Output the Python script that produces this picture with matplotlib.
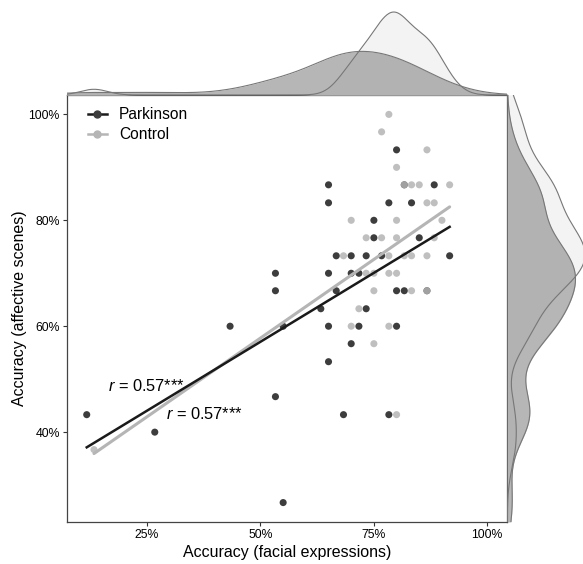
import numpy as np
import matplotlib
matplotlib.use('Agg')
import matplotlib.pyplot as plt
from matplotlib.lines import Line2D

plt.rcParams['font.family'] = ['Liberation Sans', 'DejaVu Sans']
plt.rcParams['mathtext.fontset'] = 'custom'
plt.rcParams['mathtext.it'] = 'Liberation Sans:italic'
plt.rcParams['mathtext.rm'] = 'Liberation Sans'

# accuracy in percent
park_x = [11.7, 26.7, 43.3, 53.3, 53.3, 53.3, 55, 55, 63.3, 65, 65, 65, 65, 65,
          66.7, 66.7, 68.3, 70, 70, 70, 71.7, 71.7, 73.3, 73.3, 75, 75, 76.7,
          78.3, 78.3, 80, 80, 80, 81.7, 81.7, 83.3, 85, 86.7, 88.3, 91.7]
park_y = [43.3, 40, 60, 70, 66.7, 46.7, 60, 26.7, 63.3, 86.7, 83.3, 70, 60, 53.3,
          73.3, 66.7, 43.3, 73.3, 70, 56.7, 70, 60, 73.3, 63.3, 80, 76.7, 73.3,
          83.3, 43.3, 93.3, 66.7, 60, 66.7, 86.7, 83.3, 76.7, 66.7, 86.7, 73.3]

ctrl_x = [13.3, 68.3, 70, 70, 71.7, 73.3, 73.3, 75, 75, 75, 76.7, 76.7, 78.3,
          78.3, 78.3, 78.3, 80, 80, 80, 80, 80, 81.7, 81.7, 83.3, 83.3, 83.3,
          85, 86.7, 86.7, 86.7, 86.7, 88.3, 88.3, 90, 91.7]
ctrl_y = [36.7, 73.3, 80, 60, 63.3, 76.7, 70, 70, 66.7, 56.7, 96.7, 76.7, 100,
          73.3, 70, 60, 90, 80, 76.7, 70, 43.3, 86.7, 73.3, 86.7, 73.3, 66.7,
          86.7, 93.3, 83.3, 73.3, 66.7, 83.3, 76.7, 80, 86.7]

groups = ['Parkinson', 'Control']
r_labels = [r'$r$ = 0.57***', r'$r$ = 0.57***']

x_ticks = [25, 50, 75, 100]
y_ticks = [40, 60, 80, 100]

dark = '#3d3d3d'
light = '#b5b5b5'


def kde(v, grid, adjust=1.0):
    v = np.asarray(v, dtype=float)
    n = len(v)
    sd = v.std(ddof=1)
    q75, q25 = np.percentile(v, [75, 25])
    bw = adjust * 0.9 * min(sd, (q75 - q25) / 1.34) * n ** -0.2
    z = (grid[:, None] - v[None, :]) / bw
    return np.exp(-0.5 * z ** 2).sum(1) / (n * bw * np.sqrt(2 * np.pi))


all_x = np.array(park_x + ctrl_x)
all_y = np.array(park_y + ctrl_y)
xr = (all_x.min(), 100)
yr = (all_y.min(), all_y.max())
xlim = (xr[0] - 0.05 * (xr[1] - xr[0]), xr[1] + 0.05 * (xr[1] - xr[0]))
ylim = (yr[0] - 0.05 * (yr[1] - yr[0]), yr[1] + 0.05 * (yr[1] - yr[0]))

fig = plt.figure(figsize=(5.83, 5.64), dpi=100)
ax = fig.add_axes([0.1144, 0.0745, 0.7558, 0.7571])
axt = fig.add_axes([0.1144, 0.8316, 0.7558, 0.1684])
axr = fig.add_axes([0.8702, 0.0745, 0.1298, 0.7571])

ax.scatter(park_x, park_y, s=26, color=dark, edgecolors='none', zorder=2)
ax.scatter(ctrl_x, ctrl_y, s=26, color='#b4b4b4', alpha=0.85, edgecolors='none', zorder=3)

xs = np.linspace(np.min(park_x), np.max(park_x), 50)
b = np.polyfit(park_x, park_y, 1)
ax.plot(xs, np.polyval(b, xs), color='#1a1a1a', lw=1.8, zorder=5)
xs = np.linspace(np.min(ctrl_x), np.max(ctrl_x), 50)
b = np.polyfit(ctrl_x, ctrl_y, 1)
ax.plot(xs, np.polyval(b, xs), color=light, lw=2.2, zorder=4, solid_capstyle='round')

ax.text(16.5, 48.8, r_labels[0], fontsize=11.8, va='center', ha='left')
ax.text(29.2, 43.4, r_labels[1], fontsize=11.8, va='center', ha='left')

ax.set_xlim(xlim)
ax.set_ylim(ylim)
ax.set_xticks(x_ticks)
ax.set_xticklabels(['%d%%' % t for t in x_ticks])
ax.set_yticks(y_ticks)
ax.set_yticklabels(['%d%%' % t for t in y_ticks])
ax.tick_params(labelsize=8.8, length=3, width=0.8, color='#333333', pad=2)
for s in ax.spines.values():
    s.set_color('#444444')
    s.set_linewidth(0.9)
ax.set_xlabel('Accuracy (facial expressions)', fontsize=11.5, labelpad=3)
ax.set_ylabel('Accuracy (affective scenes)', fontsize=11.5, labelpad=1)

handles = [Line2D([0], [0], color='#1a1a1a', lw=1.8, marker='o', markersize=5,
                  markerfacecolor=dark, markeredgecolor=dark),
           Line2D([0], [0], color=light, lw=1.8, marker='o', markersize=5,
                  markerfacecolor=light, markeredgecolor=light)]
ax.legend(handles, groups, loc='upper left', frameon=False, fontsize=11.2,
          handlelength=1.2, handletextpad=0.8, labelspacing=0.3,
          borderaxespad=0.4, bbox_to_anchor=(0.02, 1.0))

# marginal densities
gx = np.linspace(xlim[0], xlim[1], 400)
dcx = kde(ctrl_x, gx)
dpx = kde(park_x, gx, adjust=1.55)
axt.fill_between(gx, 0, dcx, color='#f3f3f3', lw=0)
axt.plot(gx, dcx, color='#777777', lw=0.8)
axt.fill_between(gx, 0, dpx, color='#9a9a9a', alpha=0.72, lw=0)
axt.plot(gx, dpx, color='#777777', lw=0.8)
axt.set_xlim(xlim)
axt.set_ylim(0, dcx.max() * 1.145)
axt.axis('off')

gy = np.linspace(ylim[0], ylim[1], 400)
dcy = kde(ctrl_y, gy, adjust=0.85)
dpy = kde(park_y, gy)
axr.fill_betweenx(gy, 0, dcy, color='#f3f3f3', lw=0)
axr.plot(dcy, gy, color='#777777', lw=0.8)
axr.fill_betweenx(gy, 0, dpy, color='#9a9a9a', alpha=0.72, lw=0)
axr.plot(dpy, gy, color='#777777', lw=0.8)
axr.set_ylim(ylim)
axr.set_xlim(0, dpy.max() * 1.11)
axr.axis('off')

fig.savefig('out.png', dpi=100)
